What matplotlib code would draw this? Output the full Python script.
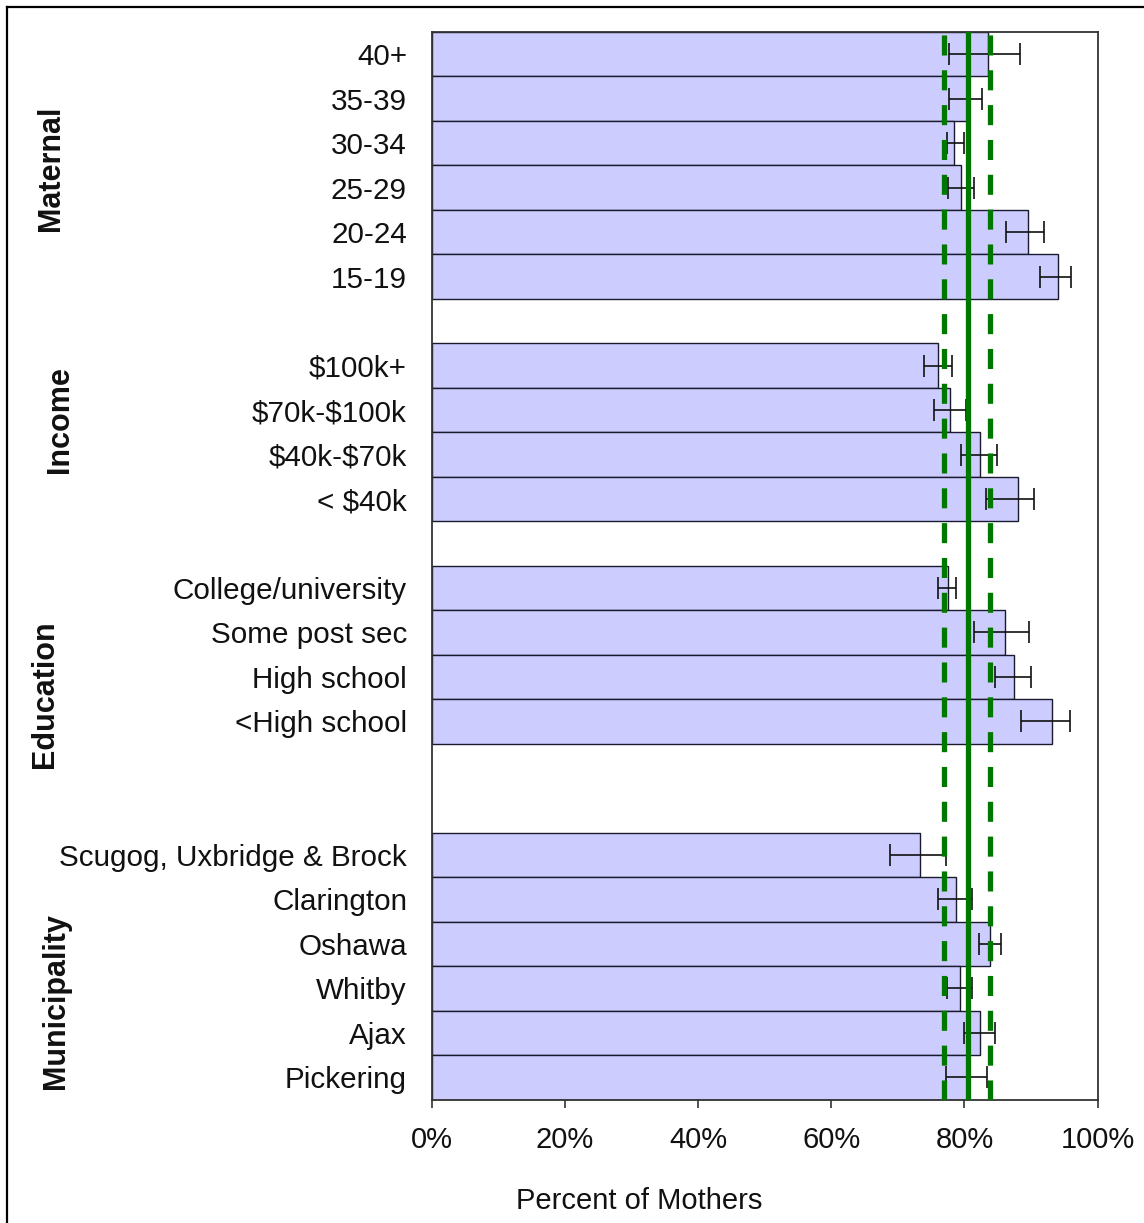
import matplotlib
matplotlib.use("Agg")
import matplotlib.pyplot as plt
from matplotlib.lines import Line2D
import numpy as np

plt.rcParams['font.family'] = ['Liberation Sans', 'DejaVu Sans']
plt.rcParams['text.parse_math'] = False

# ---- data (top to bottom within each group) ----
maternal_labels = ["40+", "35-39", "30-34", "25-29", "20-24", "15-19"]
maternal_pct = [83.6, 80.6, 78.5, 79.5, 89.5, 94.1]
maternal_lo = [77.7, 77.7, 77.4, 77.5, 86.3, 91.4]
maternal_hi = [88.3, 82.7, 80.0, 81.5, 91.9, 96.0]

income_labels = ["$100k+", "$70k-$100k", "$40k-$70k", "< $40k"]
income_pct = [76.1, 77.8, 82.4, 88.1]
income_lo = [73.9, 75.4, 79.5, 83.2]
income_hi = [78.2, 80.3, 84.9, 90.4]

education_labels = ["College/university", "Some post sec", "High school", "<High school"]
education_pct = [77.5, 86.1, 87.5, 93.1]
education_lo = [76.1, 81.4, 84.6, 88.5]
education_hi = [78.8, 89.7, 90.0, 95.8]

municipality_labels = ["Scugog, Uxbridge & Brock", "Clarington", "Oshawa", "Whitby", "Ajax", "Pickering"]
municipality_pct = [73.4, 78.7, 83.9, 79.3, 82.4, 80.4]
municipality_lo = [68.8, 76.1, 82.2, 77.4, 80.0, 77.3]
municipality_hi = [77.3, 81.2, 85.5, 81.2, 84.6, 83.4]

group_names = ["Maternal", "Income", "Education", "Municipality"]
overall_pct = 80.5
overall_lo = 76.9
overall_hi = 83.8
x_ticks = [0, 20, 40, 60, 80, 100]
x_ticklabels = ["0%", "20%", "40%", "60%", "80%", "100%"]

groups = [
    (maternal_labels, maternal_pct, maternal_lo, maternal_hi),
    (income_labels, income_pct, income_lo, income_hi),
    (education_labels, education_pct, education_lo, education_hi),
    (municipality_labels, municipality_pct, municipality_lo, municipality_hi),
]
gaps_after = [1, 1, 2, 0]

# ---- positions ----
labels, pct, lo, hi, ypos = [], [], [], [], []
pos = 0
for (lab, p, l, h), g in zip(groups, gaps_after):
    for i in range(len(lab)):
        labels.append(lab[i]); pct.append(p[i]); lo.append(l[i]); hi.append(h[i])
        ypos.append(pos)
        pos += 1
    pos += g
nrows = pos
pct = np.array(pct); lo = np.array(lo); hi = np.array(hi); ypos = np.array(ypos)

W, H = 1144, 1223
fig = plt.figure(figsize=(W / 100, H / 100), dpi=100)
ax = fig.add_axes([432 / W, 1 - 1099.5 / H, (1097.5 - 432) / W, (1099.5 - 32) / H])

ax.barh(ypos, pct, height=1.0, color="#CCCCFF", edgecolor="#1a1a2e", linewidth=1.0, zorder=2)
ax.errorbar(pct, ypos, xerr=[pct - lo, hi - pct], fmt="none", ecolor="#111111",
            elinewidth=1.2, capsize=8, capthick=1.2, zorder=3)

ax.axvline(overall_pct, color="#007800", lw=3.8, zorder=4)
for v in (overall_lo, overall_hi):
    ax.axvline(v, color="#007800", lw=3.8, ls=(0, (3.8, 2.8)), zorder=4)

ax.set_xlim(0, 100)
ax.set_ylim(nrows - 0.5, -0.5)
ax.set_yticks(ypos)
ax.set_yticklabels(labels, fontsize=21.3, color="#111111")
ax.tick_params(axis="y", length=0, pad=18)
ax.set_xticks(x_ticks)
ax.set_xticklabels(x_ticklabels, fontsize=21, color="#111111")
ax.tick_params(axis="x", direction="out", length=6, width=1.2, pad=13, color="#333333")
for s in ax.spines.values():
    s.set_color("#333333")
    s.set_linewidth(1.3)

# group labels
group_label_pos = [(51, 168), (60, 420), (45, 694), (56, 1001)]
for name, (gx, gy) in zip(group_names, group_label_pos):
    fig.text(gx / W, 1 - gy / H, name, rotation=90, ha="center", va="center",
             fontsize=22, fontweight="bold", color="#111111")

fig.text(639 / W, 1 - 1201 / H, "Percent of Mothers", ha="center", va="center",
         fontsize=21, color="#111111")

# outer frame (top and left edges visible)
fig.add_artist(Line2D([7 / W, 1], [1 - 7 / H, 1 - 7 / H], color="black", lw=1.6, transform=fig.transFigure))
fig.add_artist(Line2D([7 / W, 7 / W], [0, 1 - 7 / H], color="black", lw=1.6, transform=fig.transFigure))

fig.savefig("out.png", dpi=100, facecolor="white")
